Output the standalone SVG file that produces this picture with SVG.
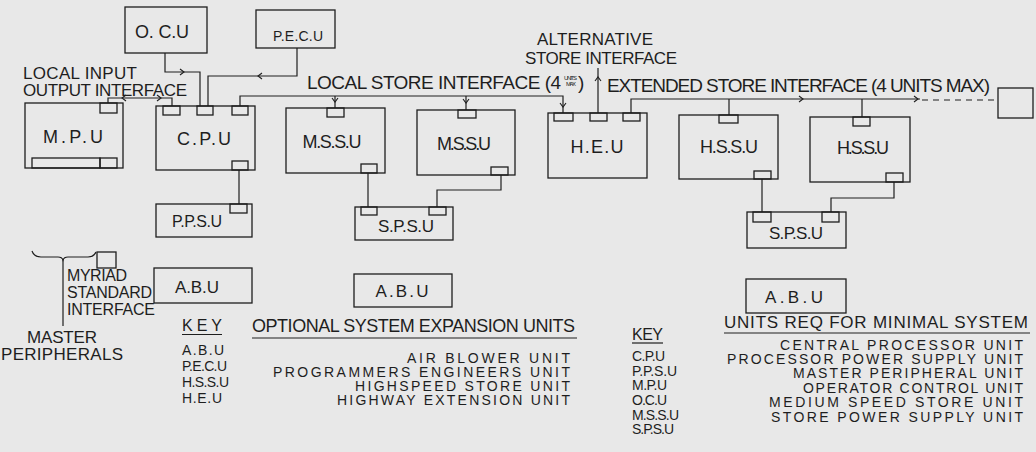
<svg xmlns="http://www.w3.org/2000/svg" xmlns:xlink="http://www.w3.org/1999/xlink" width="1036" height="452" viewBox="0 0 1036 452">
<style>
.bg{fill:#e8e8e8}
.box,.tab{fill:none;stroke:#1e1e1e;stroke-width:1.3}
.ln{fill:none;stroke:#1e1e1e;stroke-width:1.2}
.dash{fill:none;stroke:#1e1e1e;stroke-width:1.2;stroke-dasharray:6 5}
.ah{fill:none;stroke:#1e1e1e;stroke-width:1.1}
text{font-family:"Liberation Sans",Arial,sans-serif;fill:#1e1e1e}
.lbl{font-size:18px;text-anchor:middle}
.ann{font-size:18px}
.sm{font-size:16px}
.li{font-size:14px}
.tiny{font-size:6px}
</style>
<defs>
<path id="ah" class="ah" d="M-4,-3 L0,0 L-4,3"/>
</defs>
<rect class="bg" x="0" y="0" width="1036" height="452"/>

<g id="connectors">
  <path class="ln" d="M165 53 V72 H200 V106"/>
  <use xlink:href="#ah" transform="translate(184,72)"/>
  <path class="ln" d="M297 48 V76 H208 V106"/>
  <use xlink:href="#ah" transform="translate(258,76) rotate(180)"/>
  <path class="ln" d="M108 103 V98 H172 V106"/>
  <use xlink:href="#ah" transform="translate(122,98) rotate(180)"/>
  <use xlink:href="#ah" transform="translate(161,98)"/>
  <path class="ln" d="M240 106 V96 H563 V113"/>
  <path class="ln" d="M335 96 V108"/>
  <path class="ln" d="M466 96 V110"/>
  <use xlink:href="#ah" transform="translate(335,102) rotate(90)"/>
  <use xlink:href="#ah" transform="translate(466,103) rotate(90)"/>
  <use xlink:href="#ah" transform="translate(563,107) rotate(90)"/>
  <path class="ln" d="M598 68 V113"/>
  <use xlink:href="#ah" transform="translate(598,77) rotate(-90)"/>
  <path class="ln" d="M631 113 V99 H920"/>
  <path class="dash" d="M922 100 H998"/>
  <use xlink:href="#ah" transform="translate(803,99)"/>
  <use xlink:href="#ah" transform="translate(918,99)"/>
  <path class="ln" d="M729 99 V115"/>
  <path class="ln" d="M862 99 V117"/>
  <path class="ln" d="M239 170 V204"/>
  <path class="ln" d="M368 173 V207"/>
  <path class="ln" d="M501 175 V190 H437 V207"/>
  <path class="ln" d="M762 179 V212"/>
  <path class="ln" d="M894 182 V198 H831 V212"/>
  <path class="ln" d="M32 251 Q34 257 41 257 H58 Q62 257 63 260 Q64 257 68 257 H88 Q94 257 96 252"/>
  <path class="ln" d="M63 259 V326"/>
</g>

<g id="ocu">
  <rect class="box" x="125" y="7" width="82" height="46"/>
  <text class="lbl" x="162" y="38" textLength="54">O. C.U</text>
</g>
<g id="pecu">
  <rect class="box" x="256" y="10" width="79" height="38"/>
  <text class="lbl" x="298" y="41" style="font-size:14px" textLength="50">P.E.C.U</text>
</g>
<g id="mpu">
  <rect class="box" x="25" y="103" width="98" height="65"/>
  <rect class="tab" x="100" y="103" width="17" height="10"/>
  <rect class="tab" x="32" y="158" width="68" height="10"/>
  <rect class="tab" x="100" y="158" width="17" height="10"/>
  <text class="lbl" x="73" y="143" textLength="60">M.P.U</text>
</g>
<g id="cpu">
  <rect class="box" x="156" y="106" width="99" height="64"/>
  <rect class="tab" x="163" y="106" width="17" height="9"/>
  <rect class="tab" x="197" y="106" width="16" height="9"/>
  <rect class="tab" x="232" y="106" width="16" height="9"/>
  <rect class="tab" x="232" y="161" width="16" height="9"/>
  <text class="lbl" x="204" y="145" textLength="54">C.P.U</text>
</g>
<g id="mssu1">
  <rect class="box" x="286" y="108" width="99" height="65"/>
  <rect class="tab" x="327" y="108" width="17" height="9"/>
  <rect class="tab" x="361" y="164" width="16" height="9"/>
  <text class="lbl" x="332" y="148" textLength="59">M.S.S.U</text>
</g>
<g id="mssu2">
  <rect class="box" x="417" y="110" width="98" height="65"/>
  <rect class="tab" x="458" y="110" width="18" height="8"/>
  <rect class="tab" x="491" y="167" width="17" height="8"/>
  <text class="lbl" x="464" y="150" textLength="54">M.S.S.U</text>
</g>
<g id="heu">
  <rect class="box" x="548" y="113" width="99" height="65"/>
  <rect class="tab" x="554" y="113" width="19" height="8"/>
  <rect class="tab" x="590" y="113" width="17" height="8"/>
  <rect class="tab" x="623" y="113" width="17" height="8"/>
  <text class="lbl" x="597" y="153" textLength="53">H.E.U</text>
</g>
<g id="hssu1">
  <rect class="box" x="679" y="115" width="99" height="64"/>
  <rect class="tab" x="719" y="115" width="19" height="8"/>
  <rect class="tab" x="754" y="171" width="17" height="8"/>
  <text class="lbl" x="729" y="153" textLength="58">H.S.S.U</text>
</g>
<g id="hssu2">
  <rect class="box" x="810" y="117" width="100" height="65"/>
  <rect class="tab" x="853" y="117" width="17" height="9"/>
  <rect class="tab" x="886" y="173" width="17" height="9"/>
  <text class="lbl" x="863" y="154" textLength="52">H.S.S.U</text>
</g>
<g id="ext-unit">
  <rect class="box" x="998" y="88" width="35" height="30"/>
</g>
<g id="ppsu">
  <rect class="box" x="156" y="204" width="96" height="33"/>
  <rect class="tab" x="230" y="204" width="17" height="9"/>
  <text class="lbl" x="197" y="227" style="font-size:16px" textLength="50">P.P.S.U</text>
</g>
<g id="spsu1">
  <rect class="box" x="355" y="207" width="98" height="33"/>
  <rect class="tab" x="361" y="207" width="16" height="8"/>
  <rect class="tab" x="429" y="207" width="17" height="8"/>
  <text class="lbl" x="406" y="232" style="font-size:17px" textLength="56">S.P.S.U</text>
</g>
<g id="spsu2">
  <rect class="box" x="747" y="212" width="99" height="36"/>
  <rect class="tab" x="753" y="212" width="18" height="10"/>
  <rect class="tab" x="822" y="212" width="17" height="10"/>
  <text class="lbl" x="796" y="239" style="font-size:17px" textLength="54">S.P.S.U</text>
</g>
<g id="abu1">
  <rect class="box" x="154" y="268" width="98" height="35"/>
  <text class="lbl" x="197" y="293" style="font-size:17px" textLength="44">A.B.U</text>
</g>
<g id="abu2">
  <rect class="box" x="354" y="274" width="98" height="33"/>
  <text class="lbl" x="402" y="297" style="font-size:17px" textLength="53">A.B.U</text>
</g>
<g id="abu3">
  <rect class="box" x="746" y="279" width="100" height="34"/>
  <text class="lbl" x="794" y="303" style="font-size:17px" textLength="58">A.B.U</text>
</g>
<g id="myriad">
  <rect class="box" x="97" y="252" width="19" height="16"/>
</g>

<g id="annotations">
  <text class="ann" x="23" y="79" style="font-size:17px" textLength="114">LOCAL INPUT</text>
  <text class="ann" x="23" y="96" style="font-size:17px" textLength="164">OUTPUT INTERFACE</text>
  <text class="ann" x="537" y="45" style="font-size:17px" textLength="116">ALTERNATIVE</text>
  <text class="ann" x="525" y="64" style="font-size:17px" textLength="152">STORE INTERFACE</text>
  <text class="ann" x="307" y="89" style="font-size:19px" textLength="254">LOCAL STORE INTERFACE (4</text>
  <text class="tiny" x="564" y="80" textLength="13">UNITS</text>
  <text class="tiny" x="566" y="86" textLength="10">MAX</text>
  <text class="ann" x="578" y="89" style="font-size:19px">)</text>
  <text class="ann" x="607" y="92" style="font-size:19px" textLength="383">EXTENDED STORE INTERFACE (4 UNITS MAX)</text>
  <text class="sm" x="67" y="281" textLength="60">MYRIAD</text>
  <text class="sm" x="67" y="298" textLength="85">STANDARD</text>
  <text class="sm" x="67" y="315" textLength="88">INTERFACE</text>
  <text class="ann" x="27" y="343" style="font-size:17px" textLength="70">MASTER</text>
  <text class="ann" x="1" y="360" style="font-size:17px" textLength="122">PERIPHERALS</text>
</g>

<g id="key-optional">
  <text class="sm" x="182" y="331" textLength="40">KEY</text>
  <path class="ln" d="M182 334.5 H222"/>
  <text class="li" x="182" y="355" textLength="42">A.B.U</text>
  <text class="li" x="182" y="371" textLength="45">P.E.C.U</text>
  <text class="li" x="182" y="387" textLength="47">H.S.S.U</text>
  <text class="li" x="182" y="403" textLength="40">H.E.U</text>
  <text class="ann" x="252" y="332" textLength="323">OPTIONAL SYSTEM EXPANSION UNITS</text>
  <path class="ln" d="M252 338 H577"/>
  <text class="li" x="407" y="363" textLength="163">AIR BLOWER UNIT</text>
  <text class="li" x="273" y="377" textLength="297">PROGRAMMERS ENGINEERS UNIT</text>
  <text class="li" x="355" y="391" textLength="215">HIGHSPEED STORE UNIT</text>
  <text class="li" x="337" y="405" textLength="233">HIGHWAY EXTENSION UNIT</text>
</g>

<g id="key-minimal">
  <text class="sm" x="632" y="340" textLength="31">KEY</text>
  <path class="ln" d="M632 343 H663"/>
  <text class="li" x="632" y="361" textLength="33">C.P.U</text>
  <text class="li" x="632" y="376" textLength="45">P.P.S.U</text>
  <text class="li" x="632" y="390" textLength="35">M.P.U</text>
  <text class="li" x="632" y="405" textLength="35">O.C.U</text>
  <text class="li" x="632" y="420" textLength="47">M.S.S.U</text>
  <text class="li" x="632" y="434" textLength="42">S.P.S.U</text>
  <text class="ann" x="724" y="328" style="font-size:17px" textLength="304">UNITS REQ FOR MINIMAL SYSTEM</text>
  <path class="ln" d="M724 333 H1030"/>
  <text class="li" x="780" y="350" textLength="243">CENTRAL PROCESSOR UNIT</text>
  <text class="li" x="727" y="364" textLength="296">PROCESSOR POWER SUPPLY UNIT</text>
  <text class="li" x="793" y="378" textLength="230">MASTER PERIPHERAL UNIT</text>
  <text class="li" x="803" y="393" textLength="220">OPERATOR CONTROL UNIT</text>
  <text class="li" x="769" y="407" textLength="254">MEDIUM SPEED STORE UNIT</text>
  <text class="li" x="771" y="422" textLength="252">STORE POWER SUPPLY UNIT</text>
</g>
</svg>
